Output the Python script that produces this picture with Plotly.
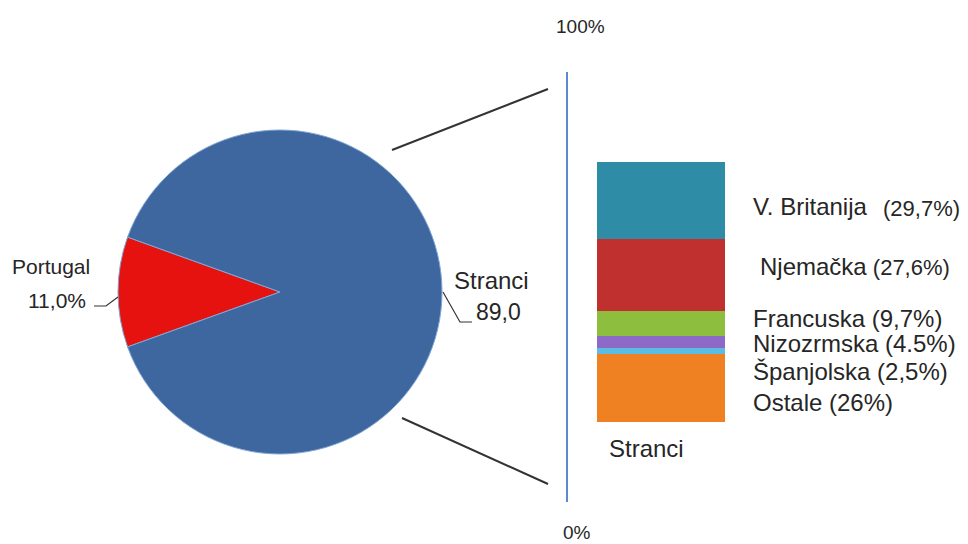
import plotly.graph_objects as go

W, H = 968, 544
OFF = 8  # page body margin offset of the figure in the window

# ---- data ----
pie_labels = ["Portugal", "Stranci"]
pie_values = [11.0, 89.0]
pie_texts = ["11,0%", "89,0"]

bar_category = ["Stranci"]
countries = ["Ostale", "Španjolska", "Nizozrmska", "Francuska", "Njemačka", "V. Britanija"]
shares = [26.0, 2.5, 4.5, 9.7, 27.6, 29.7]
share_texts = ["(26%)", "(2,5%)", "(4.5%)", "(9,7%)", "(27,6%)", "(29,7%)"]
axis_labels = ["0%", "100%"]

pie_colors = ["#E5120F", "#3D679E"]
bar_colors = ["#F08123", "#5BBDE0", "#8E6AC8", "#8DBE3E", "#C0302F", "#2F8CA6"]

FONT = "Liberation Sans, Arial, sans-serif"
TXT = "#262626"


def px(x):
    return (x - OFF) / W


def py(y):
    return 1 - (y - OFF) / H


fig = go.Figure()

fig.add_trace(go.Pie(
    labels=pie_labels, values=pie_values, sort=False,
    direction="counterclockwise", rotation=-(90 + pie_values[0] * 3.6 / 2),
    marker=dict(colors=pie_colors, line=dict(color="#7FA6D6", width=1)),
    textinfo="none", hoverinfo="label+percent", showlegend=False,
    domain=dict(x=[px(118), px(442)], y=[py(454), py(130)]),
))

for c, v, col in zip(countries, shares, bar_colors):
    fig.add_trace(go.Bar(
        x=bar_category, y=[v], name=c, width=1.0,
        marker=dict(color=col, line=dict(width=0)),
        showlegend=False, xaxis="x", yaxis="y",
    ))

# pixel mapping: value 0 -> y=422, value 100 -> y=162
ppu = (422 - 162) / 100.0
y_lo = -(502 - 422) / ppu
y_hi = 100 + (162 - 72) / ppu
# bar from x=597 to 725 (unit = 128 px), axis domain starts at 568
x_lo = -0.5 - (597 - 568) / 128.0
x_hi = x_lo + (760 - 568) / 128.0

fig.update_layout(
    width=W, height=H, margin=dict(l=0, r=0, t=0, b=0),
    paper_bgcolor="white", plot_bgcolor="rgba(0,0,0,0)",
    barmode="stack", bargap=0,
    font=dict(family=FONT, color=TXT),
    xaxis=dict(domain=[px(568), px(760)], range=[x_lo, x_hi], showticklabels=False,
               showline=False, showgrid=False, zeroline=False, ticks=""),
    yaxis=dict(domain=[py(502), py(72)], range=[y_lo, y_hi], showticklabels=False,
               showline=True, linecolor="#5A8CCB", linewidth=2, showgrid=False,
               zeroline=False, ticks=""),
)


def note(x, y, text, size, xanchor="left"):
    return dict(x=px(x), y=py(y), text=text, showarrow=False, xanchor=xanchor,
                yanchor="middle", xref="paper", yref="paper", font=dict(size=size))


ann = []
# axis end labels
ann.append(note(580, 27, axis_labels[1], 19, "center"))
ann.append(note(577, 532, axis_labels[0], 19, "center"))
# bar category label
ann.append(note(646, 448, bar_category[0], 24, "center"))

# country labels (x left, y center)
label_pos = {
    "V. Britanija": (751, 207),
    "Njemačka": (758, 266),
    "Francuska": (751, 318),
    "Nizozrmska": (751, 343),
    "Španjolska": (751, 371),
    "Ostale": (751, 402),
}
for c, t in zip(countries, share_texts):
    x0, y0 = label_pos[c]
    if c == "V. Britanija":
        ann.append(note(x0, y0, c, 24))
        ann.append(note(881, y0 + 1, t, 22))
    elif c == "Njemačka":
        ann.append(note(x0, y0, c + "<span style='font-size:22px'> " + t + "</span>", 24))
    else:
        ann.append(note(x0, y0, c + " " + t, 24))

# pie labels
ann.append(note(92, 266, pie_labels[0], 21, "right"))
ann.append(note(88, 300, pie_texts[0], 21, "right"))
ann.append(note(452, 280, pie_labels[1], 24, "left"))
ann.append(note(474, 312, pie_texts[1], 23, "left"))
fig.update_layout(annotations=ann)


def seg(points, color="#333333", width=1.5):
    path = "M " + " L ".join(f"{px(a)},{py(b)}" for a, b in points)
    return dict(type="path", path=path, xref="paper", yref="paper",
                line=dict(color=color, width=width))


fig.update_layout(shapes=[
    seg([(392, 150), (548, 89)], width=2),
    seg([(402, 418), (548, 484)], width=2),
    seg([(118, 297), (106, 306), (94, 306)], width=1.2),
    seg([(443, 292), (460, 322), (472, 322)], width=1.2),
])

fig.write_html("out.html")
